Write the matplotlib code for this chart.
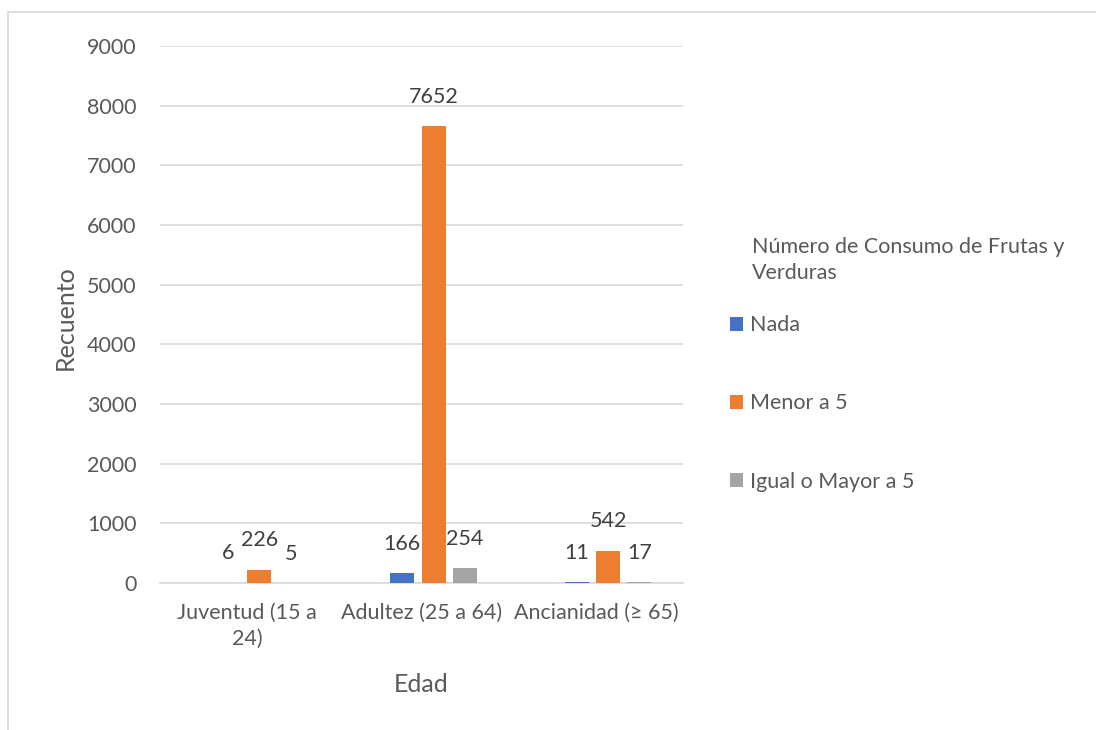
import matplotlib
matplotlib.use("Agg")
import matplotlib.pyplot as plt
from matplotlib.patches import Rectangle
import numpy as np

categories = ["Juventud (15 a\n24)", "Adultez (25 a 64)", "Ancianidad (≥ 65)"]
series_names = ["Nada", "Menor a 5", "Igual o Mayor a 5"]
nada = [6, 166, 11]
menor5 = [226, 7652, 542]
mayor5 = [5, 254, 17]
legend_title = "Número de Consumo de Frutas y\nVerduras"
yticks = list(range(0, 9001, 1000))

colors = ["#4472C4", "#ED7D31", "#A5A5A5"]
txt = "#595959"
grid = "#D9D9D9"
plt.rcParams['font.family'] = ['Lato', 'DejaVu Sans']
FS = 15.5
TFS = 18

W, H = 1096, 730
fig = plt.figure(figsize=(W / 100, H / 100), dpi=100)
fig.patches.append(Rectangle((8 / W, -0.1), 2, 1.1 - 12 / H, transform=fig.transFigure,
                             fill=False, edgecolor=grid, linewidth=1.2))

ax = fig.add_axes([160 / W, 1 - 583 / H, (683 - 160) / W, (583 - 46) / H])
x = np.arange(len(categories))
offsets = [-0.11, 0.07, 0.25]
width = 0.138
handles = []
for vals, off, c, name in zip([nada, menor5, mayor5], offsets, colors, series_names):
    b = ax.bar(x + off, vals, width, color=c, label=name, zorder=3)
    handles.append(b)
    for xi, v in zip(x + off, vals):
        ax.annotate(str(v), (xi, v), xytext=(0, 21), textcoords="offset points",
                    ha="center", va="center", fontsize=FS, color="#404040")

ax.set_xlim(-0.5, 2.5)
ax.set_ylim(0, 9000)
ax.set_yticks(yticks)
ax.set_xticks(x)
ax.set_xticklabels(categories, fontsize=FS, color=txt, linespacing=1.4)
ax.tick_params(axis='y', length=0, pad=17, labelsize=FS, labelcolor=txt)
ax.tick_params(axis='x', length=0, pad=14)
ax.grid(axis='y', color=grid, linewidth=1.2, zorder=0)
for s in ["top", "right", "left"]:
    ax.spines[s].set_visible(False)
ax.spines["bottom"].set_color(grid)
ax.spines["bottom"].set_linewidth(1.2)

fig.text(65 / W, 1 - 318 / H, "Recuento", rotation=90, ha="center", va="center",
         fontsize=TFS, color=txt)
fig.text(421 / W, 1 - 684 / H, "Edad", ha="center", va="center", fontsize=TFS, color=txt)

fig.text(752 / W, 1 - 260 / H, legend_title, ha="left", va="center", fontsize=FS,
         color=txt, linespacing=1.4)
leg = fig.legend(handles=handles, labels=series_names, loc="upper left",
                 bbox_to_anchor=(726 / W, 1 - 311 / H), frameon=False,
                 fontsize=FS, labelcolor=txt, handlelength=0.6, handleheight=0.6,
                 handletextpad=0.3, labelspacing=2.7, borderaxespad=0, borderpad=0.2)

fig.savefig("out.png", dpi=100)
